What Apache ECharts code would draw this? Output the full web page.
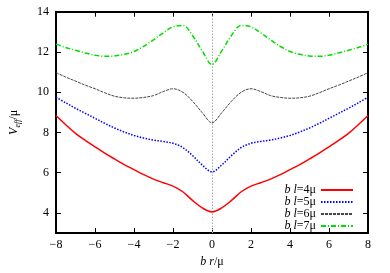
<!DOCTYPE html>
<html>
<head>
<meta charset="utf-8">
<script src="https://cdn.jsdelivr.net/npm/echarts@6/dist/echarts.min.js"></script>
<style>html,body{margin:0;padding:0;background:#fff}#c{width:390px;height:273px}</style>
</head>
<body>
<div id="c"></div>
<script>
// x positions (b r / mu)
var xs = [-8,-7.5,-7,-6.5,-6,-5.5,-5,-4.5,-4,-3.5,-3,-2.5,-2,-1.5,-1,-0.5,0,0.5,1,1.5,2,2.5,3,3.5,4,4.5,5,5.5,6,6.5,7,7.5,8];
// V_eff / mu for b l = 4, 5, 6, 7 mu
var v4 = [8.84,8.38,7.95,7.6,7.28,6.97,6.68,6.4,6.15,5.9,5.68,5.5,5.33,5.05,4.62,4.25,4.05,4.25,4.62,5.05,5.33,5.5,5.68,5.9,6.15,6.4,6.68,6.97,7.28,7.6,7.95,8.38,8.84];
var v5 = [9.75,9.47,9.2,8.95,8.7,8.45,8.22,8.02,7.85,7.72,7.62,7.55,7.46,7.25,6.85,6.38,6.04,6.38,6.85,7.25,7.46,7.55,7.62,7.72,7.85,8.02,8.22,8.45,8.7,8.95,9.2,9.47,9.75];
var v6 = [10.97,10.75,10.55,10.35,10.17,9.97,9.8,9.72,9.7,9.74,9.83,10.03,10.17,10.0,9.55,8.98,8.48,8.98,9.55,10.0,10.17,10.03,9.83,9.74,9.7,9.72,9.8,9.97,10.17,10.35,10.55,10.75,10.97];
var v7 = [12.39,12.22,12.08,11.95,11.84,11.78,11.8,11.88,12.02,12.28,12.6,12.95,13.25,13.32,12.82,12.05,11.38,12.05,12.82,13.32,13.25,12.95,12.6,12.28,12.02,11.88,11.8,11.78,11.84,11.95,12.08,12.22,12.39];
var lValues = ['4','5','6','7'];
var xTicks = [-8,-6,-4,-2,0,2,4,6,8];
var yTicks = [4,6,8,10,12,14];

function pairs(ys){ return xs.map(function(x,i){ return [x, ys[i]]; }); }
var SERIF = '"Liberation Serif","DejaVu Serif",serif';
function minus(v){ return String(v).replace('-', '\u2212'); }

var styles = [
  {color:'#ff0000', width:1.5, type:'solid'},
  {color:'#0000ff', width:1.5, type:[1.5,1.5]},
  {color:'#444444', width:1, type:[3,1]},
  {color:'#00dd00', width:1.5, type:[5,2,1,2]}
];
var vals = [v4,v5,v6,v7];

var series = vals.map(function(v,i){
  return {
    name: 'b l=' + lValues[i] + '\u03bc',
    type: 'line',
    data: pairs(v),
    smooth: 0.35,
    symbol: 'none',
    xAxisIndex: 0, yAxisIndex: 0,
    lineStyle: styles[i],
    itemStyle: {color: styles[i].color},
    z: 3
  };
});
series[0].markLine = {
  silent: true, symbol: 'none', label: {show:false}, z: 1,
  lineStyle: {color:'#aaaaaa', type:[1.5,1.5], width:1},
  data: [{xAxis: 0}]
};

var rich = {
  i: {fontFamily: SERIF, fontStyle:'italic', fontSize:12, color:'#000', lineHeight:11.7},
  n: {fontFamily: SERIF, fontSize:12, color:'#000', lineHeight:11.7}
};
var richX = {
  i: {fontFamily: SERIF, fontStyle:'italic', fontSize:12, color:'#000', lineHeight:14},
  n: {fontFamily: SERIF, fontSize:12, color:'#000', lineHeight:14}
};

function axisX(pos, show){
  return {
    type:'value', min:-8, max:8, interval:2, position:pos,
    axisLine:{show:true, onZero:false, lineStyle:{color:'#000', width:2}},
    axisTick:{show:true, inside:true, length:5, customValues:xTicks, lineStyle:{color:'#000', width:1}},
    axisLabel:{show:show, customValues:xTicks, formatter:minus, fontFamily:SERIF, fontSize:12, color:'#000', margin:6},
    splitLine:{show:false}
  };
}
function axisY(pos, show){
  return {
    type:'value', min:3, max:14, position:pos,
    axisLine:{show:true, onZero:false, lineStyle:{color:'#000', width:2}},
    axisTick:{show:true, inside:true, length:5, customValues:yTicks, lineStyle:{color:'#000', width:1}},
    axisLabel:{show:show, customValues:yTicks, formatter:minus, fontFamily:SERIF, fontSize:12, color:'#000', margin:7},
    splitLine:{show:false}
  };
}
var xb = axisX('bottom', true);
xb.name = '{i|b r}{n|/\u03bc}';
xb.nameLocation = 'middle';
xb.nameGap = 22;
xb.nameTextStyle = {rich: richX};
var yl = axisY('left', true);
yl.name = '{i|V}{s|eff}{n|/\u03bc}';
yl.nameLocation = 'middle';
yl.nameGap = 34;
yl.nameTextStyle = {rich: {
  i: {fontFamily: SERIF, fontStyle:'italic', fontSize:12, color:'#000', lineHeight:16, verticalAlign:'middle'},
  s: {fontFamily: SERIF, fontStyle:'italic', fontSize:8, color:'#000', lineHeight:9, verticalAlign:'bottom'},
  n: {fontFamily: SERIF, fontSize:12, color:'#000', lineHeight:16, verticalAlign:'middle'}
}};

var chart = echarts.init(document.getElementById('c'), null, {renderer:'canvas'});
chart.setOption({
  animation: false,
  backgroundColor: '#fff',
  grid: {left:51.5, right:22, top:11.7, bottom:38.7, containLabel:false},
  xAxis: [xb, axisX('top', false)],
  yAxis: [yl, axisY('right', false)],
  legend: {
    orient:'vertical', right:31, top:179, align:'right',
    itemWidth:32, itemHeight:8, itemGap:0,
    itemStyle: {opacity:0, borderWidth:0},
    formatter: function(name){ var m = name.match(/=(\d)/); return '{i|b l}{n|=' + m[1] + '\u03bc}'; },
    textStyle: {rich: rich, lineHeight:11.7},
    data: series.map(function(s){ return s.name; })
  },
  series: series
});
</script>
</body>
</html>
